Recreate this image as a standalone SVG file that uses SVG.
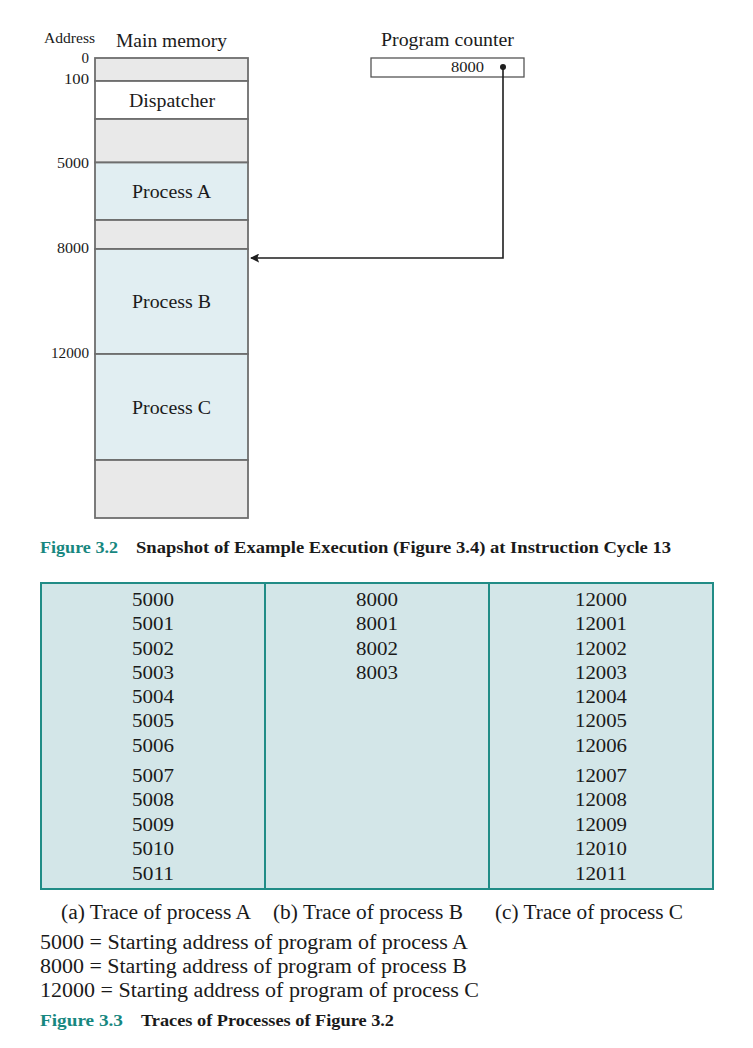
<svg xmlns="http://www.w3.org/2000/svg" width="753" height="1048" viewBox="0 0 753 1048" font-family="Liberation Serif, Tinos, Times New Roman, serif">
  <style>
    text { font-family: 'Liberation Serif', Tinos, 'Times New Roman', Times, serif; fill: #1a1a1a; }
    .addr { font-size: 15px; text-anchor: end; }
    .head { font-size: 19.5px; }
    .seg-label { font-size: 19.5px; }
    .num { font-size: 18px; text-anchor: middle; }
    .body { font-size: 20px; }
    .fig { font-size: 17px; font-weight: bold; fill: #17877f; }
    .figtitle { font-size: 17px; font-weight: bold; }
    .free { fill: #e9e9e9; }
    .proc { fill: #e1eef2; }
    .disp { fill: #ffffff; }
    .seg { stroke: #6e6e6e; stroke-width: 1.8; }
    .wire { fill: none; stroke: #1e1e1e; stroke-width: 1.6; }
    .tbl { fill: #d3e6e8; stroke: #218c86; stroke-width: 2; }
    .tbl-div { stroke: #218c86; stroke-width: 2; }
  </style>
  <defs>
    <marker id="arrow" viewBox="0 0 10 10" refX="9" refY="5" markerWidth="9" markerHeight="9" markerUnits="userSpaceOnUse" orient="auto">
      <path d="M0,0 L10,5 L0,10 L2,5 Z" fill="#1e1e1e"/>
    </marker>
  </defs>

  <!-- Column headings -->
  <text x="44" y="43" font-size="14.5" textLength="51" lengthAdjust="spacingAndGlyphs">Address</text>
  <text x="116" y="47" class="head" textLength="111" lengthAdjust="spacingAndGlyphs">Main memory</text>

  <!-- Main memory segments -->
  <g id="mem-free-top">
    <rect x="95" y="58" width="153" height="23" class="free seg"/>
  </g>
  <g id="mem-dispatcher">
    <rect x="95" y="81" width="153" height="38" class="disp seg"/>
    <text x="129" y="107" class="seg-label" textLength="86" lengthAdjust="spacingAndGlyphs">Dispatcher</text>
  </g>
  <g id="mem-free-1">
    <rect x="95" y="119" width="153" height="43.5" class="free seg"/>
  </g>
  <g id="mem-process-a">
    <rect x="95" y="162.5" width="153" height="57.5" class="proc seg"/>
    <text x="132" y="198" class="seg-label" textLength="79" lengthAdjust="spacingAndGlyphs">Process A</text>
  </g>
  <g id="mem-free-2">
    <rect x="95" y="220" width="153" height="29" class="free seg"/>
  </g>
  <g id="mem-process-b">
    <rect x="95" y="249" width="153" height="105" class="proc seg"/>
    <text x="132" y="308" class="seg-label" textLength="79" lengthAdjust="spacingAndGlyphs">Process B</text>
  </g>
  <g id="mem-process-c">
    <rect x="95" y="354" width="153" height="106" class="proc seg"/>
    <text x="132" y="414" class="seg-label" textLength="79" lengthAdjust="spacingAndGlyphs">Process C</text>
  </g>
  <g id="mem-free-bottom">
    <rect x="95" y="460" width="153" height="58" class="free seg"/>
  </g>

  <!-- Address scale -->
  <g id="addresses">
    <text x="89" y="63" class="addr">0</text>
    <text x="89" y="84" class="addr" textLength="25" lengthAdjust="spacingAndGlyphs">100</text>
    <text x="89" y="168" class="addr" textLength="32" lengthAdjust="spacingAndGlyphs">5000</text>
    <text x="89" y="253" class="addr" textLength="32" lengthAdjust="spacingAndGlyphs">8000</text>
    <text x="89" y="358" class="addr" textLength="38" lengthAdjust="spacingAndGlyphs">12000</text>
  </g>

  <!-- Program counter register -->
  <g id="program-counter">
    <text x="381" y="46" class="head" textLength="133" lengthAdjust="spacingAndGlyphs">Program counter</text>
    <rect x="371" y="58" width="153" height="19" fill="#ffffff" stroke="#555555" stroke-width="1.3"/>
    <text x="451" y="72" font-size="15" textLength="33" lengthAdjust="spacingAndGlyphs">8000</text>
  </g>

  <!-- Pointer from the program counter to process B -->
  <g id="connectors">
    <circle cx="503" cy="67" r="3" fill="#1e1e1e"/>
    <path d="M503,67 V258 H251" class="wire" marker-end="url(#arrow)"/>
  </g>

  <!-- Caption of the memory snapshot -->
  <g id="caption-snapshot">
    <text x="40" y="553" class="fig" textLength="78" lengthAdjust="spacingAndGlyphs">Figure 3.2</text>
    <text x="136" y="553" class="figtitle" textLength="535" lengthAdjust="spacingAndGlyphs">Snapshot of Example Execution (Figure 3.4) at Instruction Cycle 13</text>
  </g>

  <!-- Trace table -->
  <g id="trace-table">
    <rect x="41" y="583" width="672" height="306" class="tbl"/>
    <line x1="265" y1="583" x2="265" y2="889" class="tbl-div"/>
    <line x1="489" y1="583" x2="489" y2="889" class="tbl-div"/>
  </g>

  <g id="trace-a">
    <text x="153" y="606" class="num" textLength="42" lengthAdjust="spacingAndGlyphs">5000</text>
    <text x="153" y="630" class="num" textLength="42" lengthAdjust="spacingAndGlyphs">5001</text>
    <text x="153" y="655" class="num" textLength="42" lengthAdjust="spacingAndGlyphs">5002</text>
    <text x="153" y="679" class="num" textLength="42" lengthAdjust="spacingAndGlyphs">5003</text>
    <text x="153" y="703" class="num" textLength="42" lengthAdjust="spacingAndGlyphs">5004</text>
    <text x="153" y="727" class="num" textLength="42" lengthAdjust="spacingAndGlyphs">5005</text>
    <text x="153" y="752" class="num" textLength="42" lengthAdjust="spacingAndGlyphs">5006</text>
    <text x="153" y="782" class="num" textLength="42" lengthAdjust="spacingAndGlyphs">5007</text>
    <text x="153" y="806" class="num" textLength="42" lengthAdjust="spacingAndGlyphs">5008</text>
    <text x="153" y="831" class="num" textLength="42" lengthAdjust="spacingAndGlyphs">5009</text>
    <text x="153" y="855" class="num" textLength="42" lengthAdjust="spacingAndGlyphs">5010</text>
    <text x="153" y="880" class="num" textLength="42" lengthAdjust="spacingAndGlyphs">5011</text>
  </g>

  <g id="trace-b">
    <text x="377" y="606" class="num" textLength="42" lengthAdjust="spacingAndGlyphs">8000</text>
    <text x="377" y="630" class="num" textLength="42" lengthAdjust="spacingAndGlyphs">8001</text>
    <text x="377" y="655" class="num" textLength="42" lengthAdjust="spacingAndGlyphs">8002</text>
    <text x="377" y="679" class="num" textLength="42" lengthAdjust="spacingAndGlyphs">8003</text>
  </g>

  <g id="trace-c">
    <text x="601" y="606" class="num" textLength="52" lengthAdjust="spacingAndGlyphs">12000</text>
    <text x="601" y="630" class="num" textLength="52" lengthAdjust="spacingAndGlyphs">12001</text>
    <text x="601" y="655" class="num" textLength="52" lengthAdjust="spacingAndGlyphs">12002</text>
    <text x="601" y="679" class="num" textLength="52" lengthAdjust="spacingAndGlyphs">12003</text>
    <text x="601" y="703" class="num" textLength="52" lengthAdjust="spacingAndGlyphs">12004</text>
    <text x="601" y="727" class="num" textLength="52" lengthAdjust="spacingAndGlyphs">12005</text>
    <text x="601" y="752" class="num" textLength="52" lengthAdjust="spacingAndGlyphs">12006</text>
    <text x="601" y="782" class="num" textLength="52" lengthAdjust="spacingAndGlyphs">12007</text>
    <text x="601" y="806" class="num" textLength="52" lengthAdjust="spacingAndGlyphs">12008</text>
    <text x="601" y="831" class="num" textLength="52" lengthAdjust="spacingAndGlyphs">12009</text>
    <text x="601" y="855" class="num" textLength="52" lengthAdjust="spacingAndGlyphs">12010</text>
    <text x="601" y="880" class="num" textLength="52" lengthAdjust="spacingAndGlyphs">12011</text>
  </g>

  <!-- Column labels -->
  <g id="trace-labels">
    <text x="61" y="919" class="body" textLength="190" lengthAdjust="spacingAndGlyphs">(a) Trace of process A</text>
    <text x="273" y="919" class="body" textLength="190" lengthAdjust="spacingAndGlyphs">(b) Trace of process B</text>
    <text x="495" y="919" class="body" textLength="188" lengthAdjust="spacingAndGlyphs">(c) Trace of process C</text>
  </g>

  <!-- Legend -->
  <g id="legend">
    <text x="40" y="949" class="body" textLength="428" lengthAdjust="spacingAndGlyphs">5000 = Starting address of program of process A</text>
    <text x="40" y="973" class="body" textLength="427" lengthAdjust="spacingAndGlyphs">8000 = Starting address of program of process B</text>
    <text x="40" y="997" class="body" textLength="439" lengthAdjust="spacingAndGlyphs">12000 = Starting address of program of process C</text>
  </g>

  <!-- Caption of the traces -->
  <g id="caption-traces">
    <text x="40" y="1026" class="fig" textLength="83" lengthAdjust="spacingAndGlyphs">Figure 3.3</text>
    <text x="141" y="1026" class="figtitle" textLength="253" lengthAdjust="spacingAndGlyphs">Traces of Processes of Figure 3.2</text>
  </g>
</svg>
